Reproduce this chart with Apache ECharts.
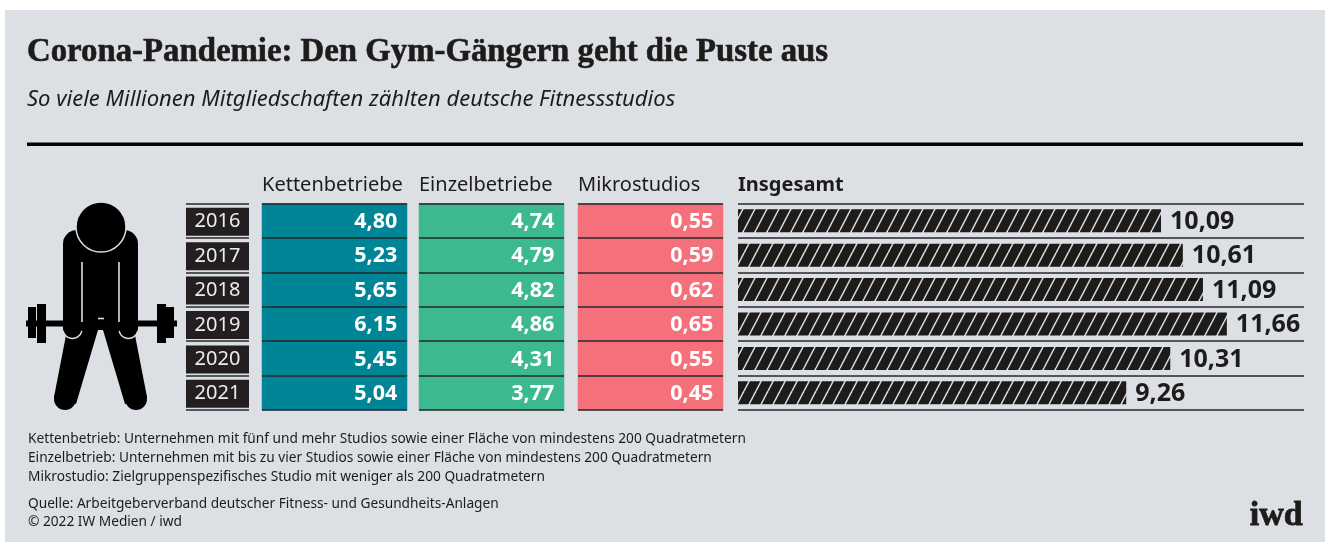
<!DOCTYPE html>
<html>
<head>
<meta charset="utf-8">
<style>
  html, body { margin: 0; padding: 0; background: #fff; }
  #chart { width: 1325px; height: 542px; }
</style>
<script src="https://cdn.jsdelivr.net/npm/echarts@6/dist/echarts.min.js"></script>
</head>
<body>
<div id="chart"></div>
<script>
const years = ["2016", "2017", "2018", "2019", "2020", "2021"];
const kettenbetriebe = [4.80, 5.23, 5.65, 6.15, 5.45, 5.04];
const einzelbetriebe = [4.74, 4.79, 4.82, 4.86, 4.31, 3.77];
const mikrostudios = [0.55, 0.59, 0.62, 0.65, 0.55, 0.45];
const insgesamt = [10.09, 10.61, 11.09, 11.66, 10.31, 9.26];

const footnotes = [
  "Kettenbetrieb: Unternehmen mit fünf und mehr Studios sowie einer Fläche von mindestens 200 Quadratmetern",
  "Einzelbetrieb: Unternehmen mit bis zu vier Studios sowie einer Fläche von mindestens 200 Quadratmetern",
  "Mikrostudio: Zielgruppenspezifisches Studio mit weniger als 200 Quadratmetern",
];
const sources = [
  "Quelle: Arbeitgeberverband deutscher Fitness- und Gesundheits-Anlagen",
  "© 2022 IW Medien / iwd",
];

const BG = "#dcdfe4";
const INK = "#1d1c1a";
const SANS = "'Noto Sans', sans-serif";
const SERIF = "'Liberation Serif', serif";
const GRID_TOP = 203.5;
const GRID_HEIGHT = 206.5;

const fmt = (v) => v.toFixed(2).replace(".", ",");

// Hatch tile for the total bars
function hatchTile() {
  const w = 12, h = 23;
  const c = document.createElement("canvas");
  c.width = w;
  c.height = h;
  const ctx = c.getContext("2d");
  ctx.fillStyle = INK;
  ctx.fillRect(0, 0, w, h);
  ctx.strokeStyle = BG;
  ctx.lineWidth = 1.5;
  [-w, 0, w].forEach((dx) => {
    ctx.beginPath();
    ctx.moveTo(dx, h);
    ctx.lineTo(dx + w, 0);
    ctx.stroke();
  });
  return c;
}

// One column per entry: year tags, three coloured columns, total bars
const columns = [
  { left: 186, width: 63 },
  { left: 262, width: 145, name: "Kettenbetriebe", values: kettenbetriebe, color: "#008596" },
  { left: 419, width: 145, name: "Einzelbetriebe", values: einzelbetriebe, color: "#3cb98f" },
  { left: 578, width: 145, name: "Mikrostudios", values: mikrostudios, color: "#f4717b" },
  { left: 738, width: 566, name: "Insgesamt" },
];

const grid = columns.map((c) => ({
  left: c.left,
  width: c.width,
  top: GRID_TOP,
  height: GRID_HEIGHT,
}));

const yAxis = columns.map((c, i) => ({
  type: "category",
  gridIndex: i,
  data: years,
  inverse: true,
  z: 5,
  axisLine: { show: false },
  axisTick: { show: false },
  axisLabel: i === 0
    ? {
        show: true,
        inside: true,
        margin: 0,
        padding: [2, 0, 0, 0],
        formatter: (v) => `{tag|${v}}`,
        rich: {
          tag: {
            width: 63,
            height: 28,
            lineHeight: 28,
            align: "center",
            backgroundColor: "#231f20",
            color: "#ececec",
            fontFamily: SANS,
            fontSize: 20,
          },
        },
      }
    : { show: false },
  splitLine: {
    show: true,
    lineStyle: { color: "#26282a", width: 1.5 },
  },
}));

const xAxis = columns.map((c, i) => (
  i === 4
    ? { type: "value", gridIndex: i, min: 0, max: 13.5, show: false }
    : { type: "category", gridIndex: i, data: [""], show: false }
));

const series = [
  ...[1, 2, 3].map((i) => ({
    type: "heatmap",
    name: columns[i].name,
    xAxisIndex: i,
    yAxisIndex: i,
    data: columns[i].values.map((v, row) => [0, row, v]),
    itemStyle: { color: columns[i].color },
    label: {
      show: true,
      position: "insideRight",
      distance: 10,
      offset: [0, 1],
      color: "#fff",
      fontFamily: SANS,
      fontWeight: "bold",
      fontSize: 21.5,
      formatter: (p) => fmt(p.value[2]),
    },
  })),
  {
    type: "bar",
    name: "Insgesamt",
    xAxisIndex: 4,
    yAxisIndex: 4,
    barWidth: 23,
    data: insgesamt,
    itemStyle: { color: { image: hatchTile(), repeat: "repeat" } },
    label: {
      show: true,
      position: "right",
      distance: 9,
      offset: [0, 1],
      color: INK,
      fontFamily: SANS,
      fontWeight: "bold",
      fontSize: 25,
      formatter: (p) => fmt(p.value),
    },
  },
];

// Column heads and chart titles
const title = [
  {
    text: "Corona-Pandemie: Den Gym-Gängern geht die Puste aus",
    left: 27,
    top: 36,
    padding: 0,
    textStyle: {
      fontFamily: SERIF,
      fontWeight: "bold",
      fontSize: 32.8,
      color: INK,
      textBorderColor: INK,
      textBorderWidth: 0.6,
    },
  },
  {
    text: "So viele Millionen Mitgliedschaften zählten deutsche Fitnessstudios",
    left: 27,
    top: 89,
    padding: 0,
    textStyle: { fontFamily: SANS, fontStyle: "italic", fontWeight: "normal", fontSize: 22, color: INK },
  },
  ...columns.slice(1).map((c, i) => ({
    text: c.name,
    left: c.left,
    top: 175,
    padding: 0,
    textStyle: {
      fontFamily: SANS,
      fontWeight: i === 3 ? "bold" : "normal",
      fontSize: 20,
      color: INK,
    },
  })),
];

const note = (text, y) => ({
  type: "text",
  left: 28,
  top: y,
  style: { text, fontFamily: SANS, fontSize: 13.7, fill: INK },
});

// Lifter icon, drawn in the panel's coordinates
const block = (x, y, w, h, r) => ({
  type: "rect",
  shape: { x, y, width: w, height: h, r: r || 0 },
  style: { fill: "#000" },
});
const poly = (points) => ({
  type: "polygon",
  shape: { points },
  style: { fill: "#000" },
});
const foot = (cx) => ({
  type: "circle",
  shape: { cx, cy: 399, r: 11 },
  style: { fill: "#000" },
});
const gap = (x1, y1, x2, y2) => ({
  type: "line",
  shape: { x1, y1, x2, y2 },
  style: { stroke: BG, lineWidth: 1.6 },
});
const handGap = (cx) => ({
  type: "arc",
  shape: { cx, cy: 329, r: 9.5, startAngle: 0.2, endAngle: Math.PI - 0.2 },
  style: { stroke: BG, lineWidth: 1.4, fill: null },
});
const lifter = {
  type: "group",
  children: [
    block(26, 320.5, 151, 6),
    block(28, 307, 8, 31),
    block(37, 304, 9, 39),
    block(157, 304, 9, 39),
    block(166, 307, 8, 31),
    poly([[67, 330], [54, 397], [76, 404], [98, 330]]),
    poly([[134, 330], [147, 397], [125, 404], [103, 330]]),
    foot(65),
    foot(136),
    block(63, 230, 75, 88, [14, 14, 0, 0]),
    block(63, 300, 19, 38, [0, 0, 9, 9]),
    block(119, 300, 19, 38, [0, 0, 9, 9]),
    block(82, 300, 37, 30),
    gap(82, 262, 82, 322),
    gap(119, 262, 119, 322),
    gap(98, 318.5, 104, 318.5),
    handGap(72.5),
    handGap(128.5),
    {
      type: "circle",
      shape: { cx: 101, cy: 227, r: 25 },
      style: { fill: "#000", stroke: BG, lineWidth: 1.5 },
    },
  ],
};

const graphic = [
  {
    type: "rect",
    z: -10,
    shape: { x: 5, y: 10, width: 1320, height: 532 },
    style: { fill: BG },
  },
  {
    type: "rect",
    shape: { x: 27, y: 142.5, width: 1276, height: 3.5 },
    style: { fill: "#000" },
  },
  lifter,
  note(footnotes[0], 429.5 + 3),
  note(footnotes[1], 448.5 + 3),
  note(footnotes[2], 467.5 + 3),
  note(sources[0], 494.5 + 3),
  note(sources[1], 512.5 + 3),
  {
    type: "text",
    right: 22,
    top: 499,
    style: {
      text: "iwd",
      fontFamily: SERIF,
      fontWeight: "bold",
      fontSize: 34,
      fill: INK,
      stroke: INK,
      lineWidth: 0.8,
    },
  },
];

const chart = echarts.init(document.getElementById("chart"));
chart.setOption({
  animation: false,
  backgroundColor: "#fff",
  title,
  grid,
  xAxis,
  yAxis,
  series,
  graphic,
});
</script>
</body>
</html>
